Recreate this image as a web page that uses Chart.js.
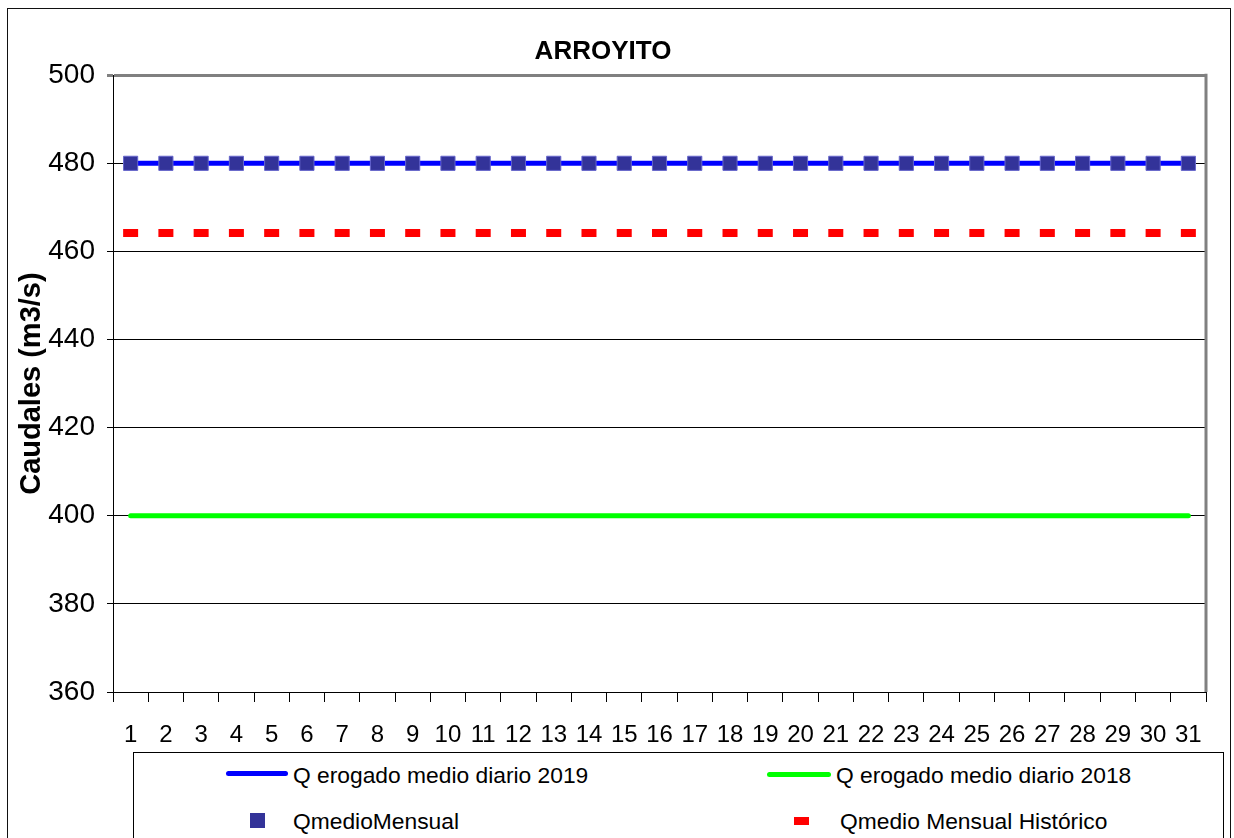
<!DOCTYPE html>
<html>
<head>
<meta charset="utf-8">
<script src="https://cdn.jsdelivr.net/npm/chart.js@4.4.1/dist/chart.umd.min.js"></script>
<style>
  html, body { margin: 0; padding: 0; background: #fff; }
  body { width: 1234px; height: 838px; position: relative; overflow: hidden; font-family: "Liberation Sans", Arial, sans-serif; }
  #c { position: absolute; left: 0; top: 0; }
  #frame { position: absolute; left: 7px; top: 8px; width: 1224px; height: 860px; border: 1px solid #111; box-sizing: border-box; pointer-events: none; }
  #legend { position: absolute; left: 133px; top: 752px; width: 1091px; height: 120px; border: 1px solid #000; box-sizing: border-box; background: #fff; }
  .item { position: absolute; font-size: 22.8px; color: #000; white-space: nowrap; line-height: 22px; }
  .sw { position: absolute; }
</style>
</head>
<body>
<canvas id="c" width="1234" height="838"></canvas>
<div id="frame"></div>
<div id="legend"></div>
<script>
// ---- data ----
const days = ['1','2','3','4','5','6','7','8','9','10','11','12','13','14','15','16','17','18','19','20','21','22','23','24','25','26','27','28','29','30','31'];
const q2019 = [480,480,480,480,480,480,480,480,480,480,480,480,480,480,480,480,480,480,480,480,480,480,480,480,480,480,480,480,480,480,480];
const q2018 = [400,400,400,400,400,400,400,400,400,400,400,400,400,400,400,400,400,400,400,400,400,400,400,400,400,400,400,400,400,400,400];
const qMensual = [480,480,480,480,480,480,480,480,480,480,480,480,480,480,480,480,480,480,480,480,480,480,480,480,480,480,480,480,480,480,480];
const qHistorico = [464.2,464.2,464.2,464.2,464.2,464.2,464.2,464.2,464.2,464.2,464.2,464.2,464.2,464.2,464.2,464.2,464.2,464.2,464.2,464.2,464.2,464.2,464.2,464.2,464.2,464.2,464.2,464.2,464.2,464.2,464.2];
const seriesNames = ['Q erogado medio diario 2019','Q erogado medio diario 2018','QmedioMensual','Qmedio Mensual Histórico'];
const yMin = 360, yMax = 500, yStep = 20;

const FONT = '"Liberation Sans", Arial, sans-serif';

const borderPlugin = {
  id: 'plotBorder',
  afterDraw(chart) {
    const a = chart.chartArea, ctx = chart.ctx;
    ctx.save();
    ctx.strokeStyle = '#808080';
    ctx.lineWidth = 3;
    ctx.beginPath();
    ctx.moveTo(a.right, a.top - 1.5);
    ctx.lineTo(a.right, a.bottom);
    ctx.stroke();
    ctx.restore();
  }
};

new Chart(document.getElementById('c'), {
  type: 'line',
  data: {
    labels: days,
    datasets: [
      { label: seriesNames[0], data: q2019, borderColor: '#0000FF', backgroundColor: '#0000FF', borderWidth: 5, pointRadius: 0, borderCapStyle: 'round', order: 2 },
      { label: seriesNames[1], data: q2018, borderColor: '#00FF00', backgroundColor: '#00FF00', borderWidth: 5, pointRadius: 0, borderCapStyle: 'round', order: 2 },
      { label: seriesNames[2], data: qMensual, showLine: false, pointStyle: 'rect', pointRadius: 10, pointBackgroundColor: '#333399', pointBorderColor: '#6666CC', pointBorderWidth: 1, order: 0 },
      { label: seriesNames[3], data: qHistorico, showLine: false, pointStyle: 'line', pointRadius: 7.5, pointBorderColor: '#FF0000', pointBorderWidth: 8, order: 1 }
    ]
  },
  options: {
    responsive: false,
    animation: false,
    layout: { padding: { left: 0, right: 28, top: 0, bottom: 0 } },
    plugins: {
      legend: { display: false },
      tooltip: { enabled: false },
      title: {
        display: true,
        text: 'ARROYITO',
        color: '#000',
        font: { family: FONT, size: 26, weight: 'bold' },
        padding: { top: 36, bottom: 8 }
      }
    },
    scales: {
      x: {
        type: 'category',
        offset: true,
        grid: { offset: true, drawOnChartArea: false, drawTicks: true, tickLength: 10, color: '#000', lineWidth: 1 },
        border: { display: true, color: '#000', width: 1 },
        ticks: { color: '#000', font: { family: FONT, size: 24 }, padding: 19, maxRotation: 0, autoSkip: false },
        afterFit(scale) { scale.height = 146; }
      },
      y: {
        min: yMin, max: yMax,
        grid: {
          color: (c) => (c.tick && c.tick.value === yMax) ? '#808080' : '#000',
          lineWidth: (c) => (c.tick && c.tick.value === yMax) ? 3 : 1,
          tickLength: 6,
          drawTicks: true
        },
        border: { display: true, color: '#000', width: 1 },
        ticks: { stepSize: yStep, color: '#000', font: { family: FONT, size: 28 }, padding: 12 },
        title: {
          display: true,
          text: 'Caudales (m3/s)',
          color: '#000',
          font: { family: FONT, size: 29, weight: 'bold' },
          padding: { top: 15, bottom: 0 }
        },
        afterFit(scale) { scale.width = 113; }
      }
    }
  },
  plugins: [borderPlugin]
});

// ---- legend (HTML) ----
const legend = document.getElementById('legend');
const legendItems = [
  { name: seriesNames[0], sw: { left: 92, top: 18, width: 62, height: 5, background: '#0000FF', borderRadius: '3px' }, text: { left: 159, top: 11 } },
  { name: seriesNames[1], sw: { left: 633, top: 19, width: 64, height: 5, background: '#00FF00', borderRadius: '3px' }, text: { left: 702, top: 11 } },
  { name: seriesNames[2], sw: { left: 116, top: 60, width: 15, height: 15, background: '#333399' }, text: { left: 159, top: 57 } },
  { name: seriesNames[3], sw: { left: 660, top: 64, width: 15, height: 8, background: '#FF0000' }, text: { left: 706, top: 57 } }
];
legendItems.forEach(it => {
  const s = document.createElement('div');
  s.className = 'sw';
  Object.assign(s.style, { left: it.sw.left + 'px', top: it.sw.top + 'px', width: it.sw.width + 'px', height: it.sw.height + 'px', background: it.sw.background, borderRadius: it.sw.borderRadius || '0' });
  legend.appendChild(s);
  const t = document.createElement('div');
  t.className = 'item';
  t.textContent = it.name;
  t.style.left = it.text.left + 'px';
  t.style.top = it.text.top + 'px';
  legend.appendChild(t);
});
</script>
</body>
</html>
